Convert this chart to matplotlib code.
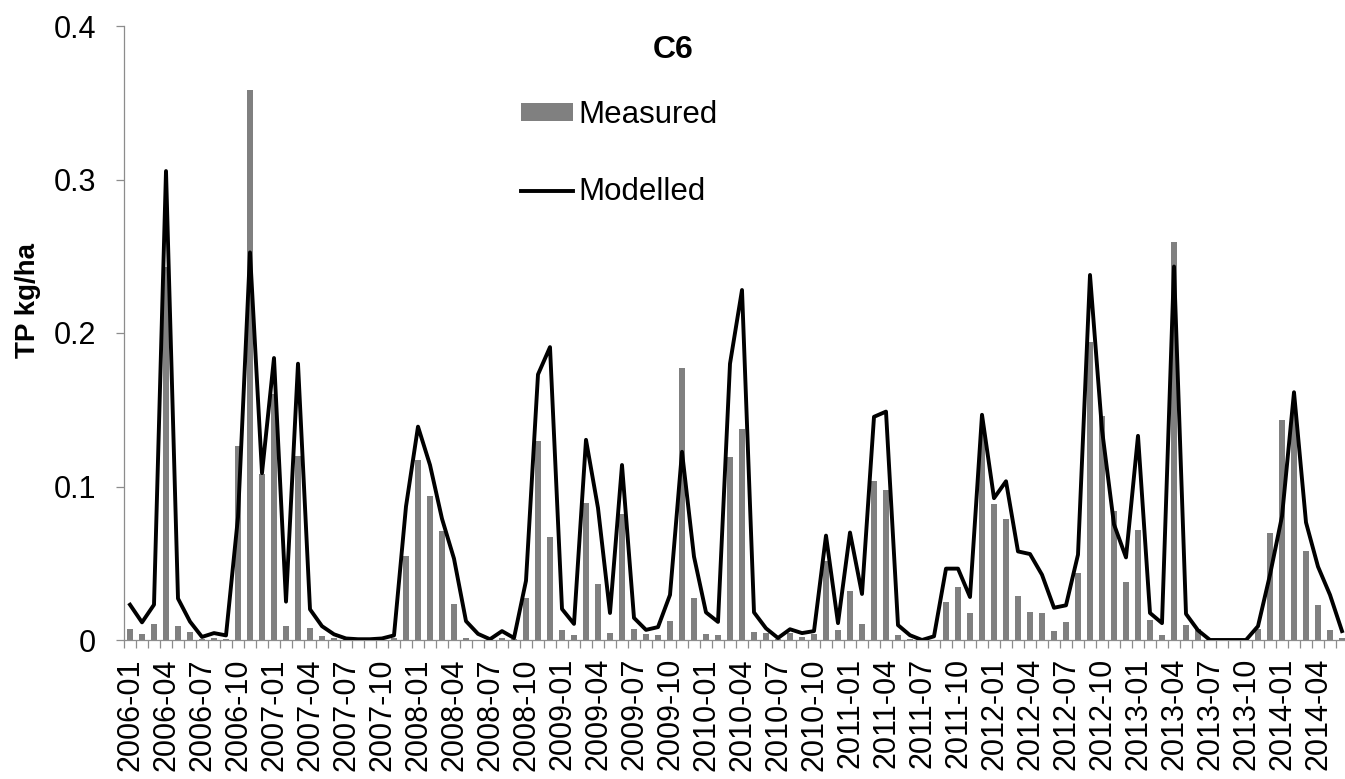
import numpy as np
import pandas as pd
import matplotlib
matplotlib.use("Agg")
import matplotlib.pyplot as plt

plt.rcParams["font.family"] = ["Liberation Sans", "DejaVu Sans"]

# monthly categories 2006-01 .. 2014-06
months = pd.date_range("2006-01", periods=102, freq="MS").strftime("%Y-%m").tolist()

measured = [
	0.007, 0.004, 0.0105, 0.243, 0.009, 0.0055, 0.0005, 0.001, 0.0005, 0.1265,
	0.358, 0.108, 0.16, 0.009, 0.12, 0.0076, 0.0024, 0.001, 0.0005, 0.0,
	0.0, 0.0, 0.001, 0.055, 0.117, 0.094, 0.071, 0.0234, 0.001, 0.0,
	0.0, 0.0013, 0.0005, 0.0273, 0.1297, 0.067, 0.0063, 0.0031, 0.089, 0.0365,
	0.0045, 0.082, 0.0073, 0.0037, 0.003, 0.0123, 0.177, 0.0276, 0.004, 0.003,
	0.119, 0.1375, 0.0055, 0.0045, 0.0005, 0.0045, 0.0018, 0.0037, 0.0517, 0.0063,
	0.032, 0.0105, 0.1034, 0.0976, 0.003, 0.0008, 0.0, 0.0, 0.0247, 0.0346,
	0.0178, 0.135, 0.0885, 0.079, 0.0286, 0.018, 0.0173, 0.006, 0.0118, 0.0438,
	0.194, 0.1457, 0.084, 0.0378, 0.0719, 0.0129, 0.003, 0.259, 0.010, 0.007,
	0.0, 0.0, 0.0, 0.0, 0.007, 0.0696, 0.143, 0.15, 0.0577, 0.0226,
	0.0068, 0.001,
]

modelled = [
	0.023, 0.0115, 0.023, 0.3055, 0.027, 0.012, 0.002, 0.0045, 0.003, 0.08,
	0.2525, 0.1087, 0.1837, 0.025, 0.180, 0.020, 0.009, 0.0037, 0.001, 0.0005,
	0.0005, 0.001, 0.003, 0.087, 0.139, 0.114, 0.079, 0.053, 0.0123, 0.004,
	0.0005, 0.0058, 0.0013, 0.0386, 0.173, 0.1908, 0.0202, 0.0105, 0.1304, 0.086,
	0.0176, 0.114, 0.0144, 0.0066, 0.0084, 0.0294, 0.1226, 0.0543, 0.018, 0.0118,
	0.180, 0.228, 0.018, 0.0076, 0.0013, 0.007, 0.0045, 0.0058, 0.068, 0.011,
	0.070, 0.030, 0.1454, 0.1488, 0.0097, 0.0031, 0.0, 0.0024, 0.0465, 0.0465,
	0.028, 0.1467, 0.0924, 0.1034, 0.0577, 0.056, 0.0425, 0.021, 0.0226, 0.0556,
	0.2378, 0.137, 0.0753, 0.0538, 0.133, 0.0176, 0.011, 0.2433, 0.017, 0.0063,
	0.0, 0.0, 0.0, 0.0, 0.009, 0.0425, 0.0806, 0.1614, 0.0766, 0.0478,
	0.0294, 0.0058,
]

yticks = [0, 0.1, 0.2, 0.3, 0.4]
ytick_labels = ["0", "0.1", "0.2", "0.3", "0.4"]

W, H = 1345, 779
fig = plt.figure(figsize=(W / 100, H / 100), dpi=100)
ax = fig.add_axes([124 / W, 1 - 640 / H, 1224 / W, 614 / H])

x = np.arange(len(months))
bars = ax.bar(x, measured, width=0.5, color="#808080", label="Measured", zorder=2)
line, = ax.plot(x, modelled, color="black", lw=2.8, label="Modelled", zorder=3)

ax.set_xlim(-0.5, len(months) - 0.5)
ax.set_ylim(0, 0.4)

axis_col = "#8c8c8c"
for s in ["top", "right"]:
	ax.spines[s].set_visible(False)
for s in ["left", "bottom"]:
	ax.spines[s].set_color(axis_col)
	ax.spines[s].set_linewidth(0.9)

# labels every 3rd month, tick marks between categories
ax.set_xticks(x[::3])
ax.set_xticklabels(months[::3], rotation=90, fontsize=22)
ax.set_xticks(np.arange(len(months) + 1) - 0.5, minor=True)
ax.tick_params(axis="x", which="major", length=0, pad=13)
ax.tick_params(axis="x", which="minor", length=6, color=axis_col, width=0.9)

ax.set_yticks(yticks)
ax.set_yticklabels(ytick_labels, fontsize=22)
ax.tick_params(axis="y", length=6, color=axis_col, width=0.9, pad=14)

fig.text(28 / W, 1 - 300 / H, "TP kg/ha", rotation=90, fontsize=20,
	fontweight="bold", ha="center", va="center")
fig.text(673 / W, 1 - 50 / H, "C6", fontsize=23, fontweight="bold",
	ha="center", va="center")

ax.legend(handles=[bars, line], loc="upper left",
	bbox_to_anchor=(521 / W, 1 - 100 / H),
	bbox_transform=fig.transFigure, frameon=False, fontsize=22.5,
	borderpad=0, borderaxespad=0, handlelength=1.66, handleheight=0.5,
	handletextpad=0.18, labelspacing=1.52)

fig.savefig("out.png", dpi=100)
